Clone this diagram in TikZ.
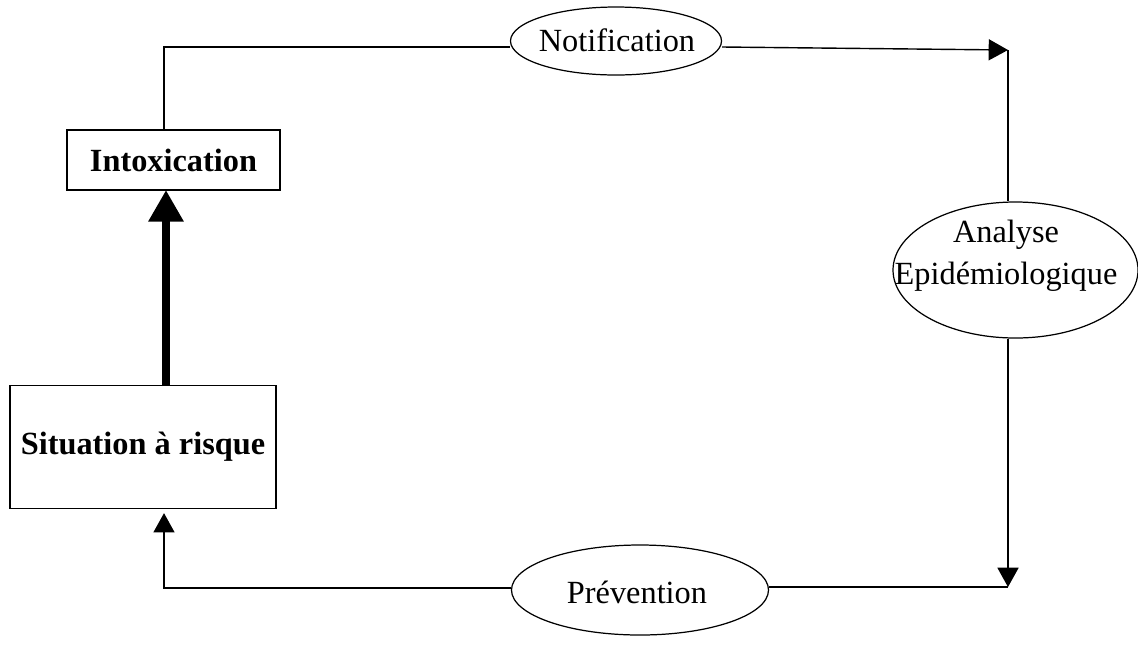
\documentclass[tikz,border=0pt]{standalone}
\usepackage{fontspec}
\setmainfont{Liberation Serif}
\usetikzlibrary{arrows.meta,shapes.geometric}
\begin{document}
\begin{tikzpicture}[x=0.02cm,y=-0.02cm,
  every node/.style={font=\fontsize{18.4}{22}\selectfont},
  boxnode/.style={draw,line width=0.7pt,inner sep=0pt,font=\bfseries\fontsize{18.4}{22}\selectfont},
  ovalnode/.style={draw,ellipse,line width=0.7pt,inner sep=0pt},
  ovaltext/.style={align=center,inner sep=0pt,font=\fontsize{18.4}{24}\selectfont},
  link/.style={line width=0.8pt},
  tip/.style={-{Triangle[length=11pt,width=12pt]}},
  bigtip/.style={line width=5pt,-{Triangle[length=18pt,width=19pt]}}]
\useasboundingbox (0,0) rectangle (1138,660);

% boxes
\node[boxnode,minimum width=213*0.02cm,minimum height=60*0.02cm] (intox) at (173.5,160) {Intoxication};
\node[boxnode,minimum width=266*0.02cm,minimum height=123*0.02cm] (sit) at (143,447) {Situation à risque};

% ovals (outline only) with their texts on top
\node[ovalnode,minimum width=211*0.02cm,minimum height=68*0.02cm] (notif) at (616,41) {};
\node[ovaltext] (notiftext) at (617,40) {Notification};
\node[ovalnode,minimum width=245*0.02cm,minimum height=136*0.02cm] (ana) at (1015.5,270) {};
\node[ovaltext] (anatext) at (1006,256) {Analyse\\Epidémiologique};
\node[ovalnode,minimum width=257*0.02cm,minimum height=90*0.02cm] (prev) at (640,590) {};
\node[ovaltext] (prevtext) at (637,592) {Prévention};

% corner points of the loop
\coordinate (tl) at (164,47);
\coordinate (tr) at (1008,50);
\coordinate (br) at (1008,587);
\coordinate (bl) at (164,588);

% connectors
\draw[link] (intox.north -| tl) -- (tl) -- (notif.west |- tl);
\draw[link,tip] (notif.east |- tl) -- (tr);
\draw[link] (tr) -- (tr |- ana.north);
\draw[link,tip] (tr |- ana.south) -- (br);
\draw[link] (br) -- (prev.east |- br);
\draw[link,tip,shorten >=4*0.02cm] (prev.west |- bl) -- (bl) -- (bl |- sit.south);
\draw[bigtip] (166,386) -- (166,190);
\end{tikzpicture}
\end{document}
